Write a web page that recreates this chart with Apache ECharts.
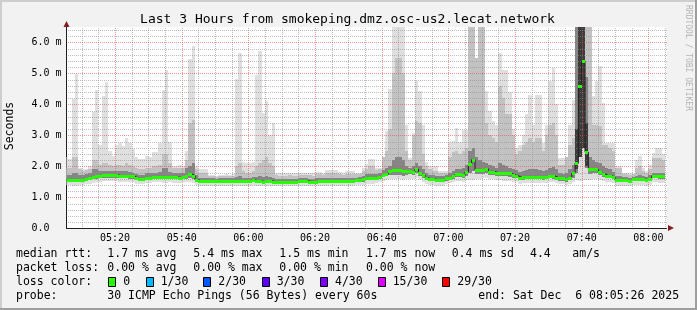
<!DOCTYPE html>
<html><head><meta charset="utf-8">
<script src="https://cdn.jsdelivr.net/npm/echarts@6/dist/echarts.min.js"></script>
<style>html,body{margin:0;padding:0;background:#f2f2f2}#c{width:697px;height:310px}</style>
</head><body><div id="c"></div>
<script>
// ---- time frame ----
const endTime = new Date(2025, 11, 6, 8, 5, 26).getTime();
const startTime = endTime - 3 * 3600 * 1000;
const firstStep = new Date(2025, 11, 6, 5, 5, 0).getTime(); // start of first 60 s step
const STEP = 60000;
const xTickLabels = ['05:20', '05:40', '06:00', '06:20', '06:40', '07:00', '07:20', '07:40', '08:00'];
const yTickValues = [0, 1, 2, 3, 4, 5, 6];

// ---- data (one value per 60 s step, in milliseconds) ----
const median = [
1.56,1.56,1.56,1.55,1.56,1.57,1.60,1.63,1.66,1.68,
1.70,1.72,1.72,1.73,1.72,1.72,1.70,1.70,1.70,1.68,
1.68,1.62,1.58,1.58,1.64,1.64,1.66,1.66,1.66,1.65,
1.66,1.66,1.65,1.65,1.64,1.66,1.70,1.76,1.70,1.56,
1.54,1.54,1.54,1.54,1.52,1.52,1.52,1.52,1.52,1.53,
1.53,1.52,1.52,1.52,1.52,1.52,1.56,1.54,1.52,1.51,
1.53,1.53,1.51,1.51,1.51,1.51,1.51,1.51,1.51,1.51,
1.53,1.53,1.53,1.51,1.51,1.51,1.53,1.53,1.53,1.53,
1.52,1.52,1.52,1.52,1.54,1.54,1.54,1.55,1.55,1.58,
1.62,1.62,1.62,1.64,1.67,1.73,1.76,1.84,1.87,1.87,
1.87,1.84,1.84,1.84,1.82,1.91,1.80,1.72,1.63,1.59,
1.59,1.56,1.56,1.56,1.61,1.64,1.68,1.75,1.75,1.71,
1.82,2.07,2.22,1.89,1.89,1.89,1.92,1.83,1.83,1.80,
1.79,1.78,1.78,1.77,1.73,1.70,1.64,1.65,1.67,1.67,
1.67,1.67,1.66,1.65,1.67,1.70,1.69,1.64,1.62,1.62,
1.58,1.64,1.77,2.10,4.60,5.39,2.46,1.91,1.91,1.90,
1.83,1.76,1.70,1.70,1.65,1.55,1.55,1.55,1.55,1.53,
1.59,1.59,1.59,1.59,1.55,1.60,1.70,1.70,1.68,1.68];
const pingMax = [
2.30,2.25,4.19,4.98,1.95,1.90,1.90,2.00,3.75,4.45,
2.70,4.28,4.71,2.50,2.35,2.70,2.75,2.65,2.90,2.75,
2.55,2.30,2.25,2.25,2.35,2.30,2.45,2.45,2.75,4.45,
5.12,2.78,2.00,2.00,2.05,2.00,2.48,5.47,5.88,2.00,
1.92,1.92,1.92,1.72,1.72,1.70,1.72,1.72,1.75,1.72,
1.75,4.81,5.66,2.15,2.10,2.10,2.15,4.96,5.74,3.72,
4.12,3.00,3.40,1.80,1.78,1.78,1.78,1.80,1.78,1.78,
1.78,1.80,1.80,1.80,1.78,1.82,1.82,1.80,1.87,1.87,
1.87,1.87,1.82,1.80,1.85,1.85,1.85,1.80,1.80,1.95,
2.07,2.24,2.24,1.95,1.95,1.95,3.15,4.50,6.60,6.60,
6.60,6.60,3.35,2.27,3.07,4.77,4.44,3.35,2.15,2.00,
2.00,2.00,1.85,1.85,1.85,2.80,2.83,3.24,2.80,3.18,
3.18,6.60,6.60,5.50,6.60,6.60,4.42,3.78,3.45,3.35,
5.66,5.10,5.10,4.40,3.20,2.60,2.70,3.00,3.70,4.30,
3.35,4.32,4.32,2.75,3.35,4.75,5.18,4.00,2.27,2.27,
2.27,3.35,4.15,6.60,6.60,6.60,6.60,6.60,4.26,4.75,
5.23,4.05,2.75,2.75,2.75,2.00,2.00,1.78,1.78,1.78,
1.75,2.20,2.32,1.95,1.85,2.05,2.43,2.60,2.58,2.40];
const pingHi = [
1.95,1.95,2.30,2.30,1.90,1.85,1.88,1.92,2.20,2.20,
2.05,2.10,2.10,2.05,2.00,2.05,2.05,2.00,2.10,2.05,
2.00,1.95,1.90,1.90,1.95,1.94,2.00,2.00,2.05,2.40,
2.40,2.10,1.95,1.95,1.95,1.95,2.20,3.40,3.50,1.90,
1.80,1.80,1.80,1.68,1.68,1.66,1.68,1.68,1.70,1.68,
1.70,2.00,2.10,1.85,1.80,1.80,1.85,2.00,2.10,2.20,
2.30,2.10,2.00,1.72,1.70,1.70,1.70,1.72,1.70,1.70,
1.72,1.72,1.72,1.72,1.70,1.74,1.74,1.72,1.78,1.78,
1.78,1.78,1.74,1.72,1.76,1.76,1.76,1.74,1.74,1.85,
1.92,2.00,2.00,1.88,1.90,2.30,2.50,3.20,5.00,5.50,
5.50,5.00,2.50,2.20,3.00,3.45,3.40,2.40,2.00,1.90,
1.85,1.85,1.78,1.78,1.80,2.30,2.45,2.50,2.40,2.50,
2.60,6.60,6.60,5.50,6.60,6.60,3.40,3.00,2.90,2.80,
4.60,4.20,3.70,3.70,3.00,2.40,2.50,2.70,2.80,2.90,
2.80,2.90,2.90,2.50,3.00,3.35,3.40,3.00,2.05,2.05,
2.30,2.70,2.90,6.60,6.60,6.60,6.60,6.60,3.35,3.35,
3.30,2.70,2.70,2.60,2.50,1.95,1.95,1.75,1.75,1.72,
1.75,1.95,2.00,1.85,1.80,1.90,2.27,2.27,2.27,2.20];
const pingDark = [
1.72,1.72,1.80,1.80,1.72,1.72,1.75,1.78,1.90,1.90,
1.85,1.86,1.86,1.86,1.85,1.86,1.84,1.84,1.86,1.82,
1.80,1.76,1.72,1.72,1.78,1.78,1.80,1.80,1.82,1.95,
1.95,1.82,1.80,1.80,1.80,1.80,1.95,2.00,2.10,1.72,
1.64,1.64,1.64,1.62,1.61,1.60,1.61,1.61,1.62,1.62,
1.62,1.66,1.68,1.62,1.62,1.62,1.66,1.66,1.68,1.66,
1.70,1.66,1.64,1.60,1.60,1.60,1.60,1.60,1.60,1.60,
1.62,1.62,1.62,1.60,1.60,1.61,1.63,1.63,1.64,1.64,
1.63,1.63,1.62,1.62,1.64,1.64,1.64,1.64,1.65,1.70,
1.74,1.76,1.76,1.76,1.80,1.88,1.95,2.00,2.20,2.30,
2.30,2.20,2.00,1.95,2.00,2.10,2.00,1.92,1.78,1.72,
1.72,1.68,1.68,1.68,1.72,1.80,1.85,1.92,1.92,1.95,
2.05,2.50,2.60,2.30,2.20,2.15,2.10,2.05,2.00,1.95,
2.10,2.05,2.00,1.95,1.92,1.88,1.82,1.86,1.88,1.90,
1.90,1.90,1.88,1.84,1.88,1.95,1.98,1.90,1.78,1.76,
1.78,1.90,2.05,6.60,6.60,6.60,4.90,2.30,2.20,2.15,
2.10,2.00,1.95,1.90,1.82,1.70,1.68,1.66,1.66,1.64,
1.67,1.69,1.71,1.69,1.67,1.71,1.80,1.80,1.78,1.78];
const pingLo = [
1.50,1.50,1.48,1.48,1.50,1.51,1.53,1.56,1.58,1.60,
1.62,1.64,1.64,1.64,1.64,1.64,1.62,1.62,1.62,1.60,
1.60,1.55,1.52,1.52,1.57,1.57,1.59,1.59,1.59,1.58,
1.58,1.59,1.58,1.58,1.57,1.59,1.60,1.62,1.58,1.50,
1.48,1.48,1.48,1.48,1.46,1.46,1.46,1.46,1.46,1.47,
1.47,1.46,1.46,1.46,1.46,1.46,1.49,1.48,1.46,1.45,
1.46,1.46,1.45,1.45,1.45,1.45,1.45,1.45,1.45,1.45,
1.47,1.47,1.47,1.45,1.45,1.45,1.47,1.47,1.47,1.47,
1.46,1.46,1.46,1.46,1.48,1.48,1.48,1.49,1.49,1.51,
1.55,1.55,1.55,1.57,1.60,1.65,1.68,1.72,1.72,1.72,
1.72,1.70,1.72,1.74,1.72,1.78,1.70,1.64,1.56,1.52,
1.52,1.50,1.50,1.50,1.54,1.57,1.60,1.66,1.66,1.63,
1.70,1.80,1.85,1.75,1.76,1.76,1.78,1.72,1.72,1.70,
1.69,1.68,1.68,1.67,1.64,1.62,1.56,1.57,1.58,1.58,
1.58,1.58,1.58,1.57,1.58,1.61,1.60,1.56,1.54,1.54,
1.51,1.56,1.62,1.78,2.40,2.80,1.95,1.75,1.78,1.78,
1.72,1.67,1.62,1.62,1.58,1.49,1.49,1.49,1.49,1.47,
1.52,1.52,1.52,1.52,1.49,1.53,1.62,1.62,1.60,1.60];
const pingMin = [
1.40,1.40,1.38,1.36,1.40,1.41,1.42,1.44,1.46,1.48,
1.50,1.52,1.52,1.53,1.52,1.52,1.50,1.50,1.50,1.48,
1.48,1.44,1.42,1.42,1.46,1.46,1.48,1.48,1.48,1.46,
1.46,1.48,1.47,1.47,1.46,1.48,1.48,1.50,1.46,1.40,
1.38,1.38,1.38,1.38,1.36,1.36,1.36,1.36,1.36,1.37,
1.37,1.36,1.36,1.36,1.36,1.36,1.39,1.38,1.36,1.35,
1.36,1.36,1.35,1.35,1.35,1.35,1.35,1.35,1.35,1.35,
1.37,1.37,1.37,1.35,1.35,1.35,1.37,1.37,1.37,1.37,
1.36,1.36,1.36,1.36,1.38,1.38,1.38,1.39,1.39,1.40,
1.44,1.44,1.44,1.46,1.48,1.52,1.55,1.58,1.58,1.58,
1.58,1.56,1.58,1.60,1.58,1.62,1.56,1.50,1.44,1.40,
1.40,1.38,1.38,1.38,1.42,1.45,1.48,1.52,1.52,1.50,
1.55,1.55,1.55,1.58,1.60,1.62,1.62,1.58,1.58,1.56,
1.55,1.54,1.54,1.53,1.50,1.48,1.44,1.45,1.46,1.46,
1.46,1.46,1.46,1.45,1.46,1.48,1.48,1.45,1.42,1.42,
1.40,1.44,1.48,1.55,1.52,1.55,1.55,1.55,1.58,1.58,
1.56,1.54,1.50,1.50,1.46,1.38,1.38,1.38,1.38,1.36,
1.40,1.40,1.40,1.40,1.38,1.41,1.48,1.48,1.46,1.46];
// darkest core of the smoke where most pings cluster far from normal
const coreSteps = [153, 154, 155, 156];
const coreLow = [1.90, 2.30, 2.60, 2.00];
const coreHigh = [3.20, 6.60, 6.60, 3.40];

// ---- texts ----
const titleText = 'Last 3 Hours from smokeping.dmz.osc-us2.lecat.network';
const yName = 'Seconds';
const rttLabel = 'median rtt:';
const rttStats = ['1.7 ms avg', '5.4 ms max', '1.5 ms min', '1.7 ms now', '0.4 ms sd', '4.4', 'am/s'];
const lossLabel = 'packet loss:';
const lossStats = ['0.00 % avg', '0.00 % max', '0.00 % min', '0.00 % now'];
const lossColorLabel = 'loss color:';
const lossColorNames = ['0', '1/30', '2/30', '3/30', '4/30', '15/30', '29/30'];
const lossColors = ['#26ff00', '#00b8ff', '#0059ff', '#5e00ff', '#7e00ff', '#dd00ff', '#ff0000'];
const probeLabel = 'probe:';
const probeText = '30 ICMP Echo Pings (56 Bytes) every 60s';
const endText = 'end: Sat Dec  6 08:05:26 2025';
const watermark = 'RRDTOOL / TOBI OETIKER';

// ---- style constants ----
const MONO = '"DejaVu Sans Mono", monospace';
const GRID = {left: 66.5, right: 30.5, top: 27, bottom: 81.7};
const MAJOR = 'rgba(222,79,79,0.6)', MINOR = 'rgba(143,143,143,0.6)';

function timeOf(label) {
  const p = label.split(':');
  return new Date(2025, 11, 6, +p[0], +p[1], 0).getTime();
}
const xTickTimes = xTickLabels.map(timeOf);
const vGridTimes = [];
for (let t = timeOf('05:10'); t <= endTime; t += 5 * 60000) vGridTimes.push(t);
const hGridValues = [];
for (let k = 1; k <= 32; k++) hGridValues.push(+(k * 0.2).toFixed(1));

// dotted 1-on/1-off patterns (rrdtool grid dash 1:1)
function dotPattern(color, vertical) {
  const c = document.createElement('canvas');
  c.width = vertical ? 1 : 2; c.height = vertical ? 2 : 1;
  const ctx = c.getContext('2d');
  ctx.fillStyle = color; ctx.fillRect(0, 0, 1, 1);
  return {image: c, repeat: 'repeat'};
}
const PAT = {
  vMajor: dotPattern(MAJOR, true), vMinor: dotPattern(MINOR, true),
  hMajor: dotPattern(MAJOR, false), hMinor: dotPattern(MINOR, false)
};

function clipRect(r, cs) {
  return echarts.graphic.clipRectByRect(r, {x: cs.x, y: cs.y, width: cs.width, height: cs.height});
}
function bandRender(color) {
  return function (params, api) {
    const t = api.value(0);
    const p1 = api.coord([t, api.value(2)]);
    const p2 = api.coord([t + STEP, api.value(1)]);
    const x1 = Math.round(p1[0]), x2 = Math.round(p2[0]);
    const y1 = Math.round(p1[1]), y2 = Math.round(p2[1]);
    const r = clipRect({x: x1, y: y1, width: x2 - x1, height: Math.max(1, y2 - y1)}, params.coordSys);
    return r ? {type: 'rect', shape: r, style: {fill: color}} : null;
  };
}
const smokeLayers = [
  {data: median.map((_, j) => [firstStep + j * STEP, pingMin[j], pingMax[j]]), color: '#dfdfdf'},
  {data: median.map((_, j) => [firstStep + j * STEP, pingLo[j], pingHi[j]]), color: '#c2c2c2'},
  {data: median.map((_, j) => [firstStep + j * STEP, pingLo[j], pingDark[j]]), color: '#858585'},
  {data: coreSteps.map((j, k) => [firstStep + j * STEP, coreLow[k], coreHigh[k]]), color: '#3c3c3c'}
];
const series = smokeLayers.map((L, i) => ({
  type: 'custom', name: 'smoke' + i, silent: true, z: 2 + i,
  encode: {x: 0, y: [1, 2]},
  renderItem: bandRender(L.color),
  data: L.data
}));

// grid lines (drawn over the smoke like rrdtool does), positioned through the axes
series.push({
  type: 'custom', silent: true, z: 8,
  encode: {x: 0, y: 1},
  data: [[startTime + 1, 1]],
  renderItem: function (params, api) {
    const cs = params.coordSys;
    const children = [];
    vGridTimes.forEach(function (t) {
      const x = Math.round(api.coord([t, 1])[0]);
      const major = new Date(t).getMinutes() % 20 === 0;
      children.push({type: 'rect', shape: {x: x, y: Math.round(cs.y), width: 1, height: Math.round(cs.height)},
        style: {fill: major ? PAT.vMajor : PAT.vMinor}});
    });
    hGridValues.forEach(function (v) {
      const y = Math.round(api.coord([startTime + 1, v])[1]);
      const major = Math.abs(v - Math.round(v)) < 1e-6;
      children.push({type: 'rect', shape: {x: Math.round(cs.x), y: y, width: Math.round(cs.width), height: 1},
        style: {fill: major ? PAT.hMajor : PAT.hMinor}});
    });
    return {type: 'group', children: children};
  }
});
// median line
const medLine = median.map((v, j) => [firstStep + j * STEP, v]);
medLine.push([firstStep + median.length * STEP, median[median.length - 1]]);
series.push({
  type: 'line', step: 'end', data: medLine, symbol: 'none', silent: true, z: 9,
  lineStyle: {color: '#202020', width: 1}, clip: true
});
// median markers coloured by loss (all steps had 0 loss)
series.push({
  type: 'custom', silent: true, z: 10,
  encode: {x: 0, y: 1},
  data: median.map((v, j) => [firstStep + j * STEP, v]),
  renderItem: function (params, api) {
    const t = api.value(0);
    const p1 = api.coord([t, api.value(1)]);
    const p2 = api.coord([t + STEP, api.value(1)]);
    const x1 = Math.round(p1[0]), x2 = Math.round(p2[0]);
    const y = Math.round(p1[1]);
    const r = clipRect({x: x1, y: y - 1, width: x2 - x1, height: 3}, params.coordSys);
    return r ? {type: 'rect', shape: r, style: {fill: lossColors[0]}} : null;
  }
});

function pad(n) { return (n < 10 ? '0' : '') + n; }

// ---- graphic decorations / legend ----
const graphic = [];
graphic.push({type: 'rect', shape: {x: 0, y: 0, width: 697, height: 2}, style: {fill: '#cecece'}, silent: true});
graphic.push({type: 'rect', shape: {x: 0, y: 0, width: 2, height: 310}, style: {fill: '#cecece'}, silent: true});
graphic.push({type: 'rect', shape: {x: 0, y: 308, width: 697, height: 2}, style: {fill: '#9e9e9e'}, silent: true});
graphic.push({type: 'rect', shape: {x: 695, y: 0, width: 2, height: 310}, style: {fill: '#9e9e9e'}, silent: true});
graphic.push({type: 'text', x: 347.5, y: 20, silent: true,
  style: {text: titleText, font: '13px ' + MONO, fill: '#000', align: 'center', verticalAlign: 'middle'}});
graphic.push({type: 'text', x: 10.5, y: 126, rotation: Math.PI / 2, silent: true,
  style: {text: yName, font: '11.5px ' + MONO, fill: '#000', align: 'center', verticalAlign: 'middle'}});
graphic.push({type: 'text', x: 688.5, y: 5, rotation: -Math.PI / 2, silent: true,
  style: {text: watermark, font: '8px ' + MONO, fill: '#b4b4b4', align: 'left', verticalAlign: 'middle'}});
// axis arrows
graphic.push({type: 'polygon', silent: true, z: 100, shape: {points: [[63.5, 27], [69.5, 27], [66.5, 21]]}, style: {fill: '#801f1f'}});
graphic.push({type: 'polygon', silent: true, z: 100, shape: {points: [[668, 225], [668, 231], [674, 228]]}, style: {fill: '#801f1f'}});
// legend
function txt(s, x, y) {
  graphic.push({type: 'text', x: x, y: y, silent: true,
    style: {text: s, font: '11.5px ' + MONO, fill: '#000', align: 'left', verticalAlign: 'middle'}});
}
const col = [107.3, 193.3, 279.3, 366, 451.7, 530, 572.3];
txt(rttLabel, 16, 254.5);
rttStats.forEach((s, i) => txt(s, col[i], 254.5));
txt(lossLabel, 16, 268.5);
lossStats.forEach((s, i) => txt(s, col[i], 268.5));
txt(lossColorLabel, 16, 282.5);
const boxX = [108.3, 145.7, 203.3, 261.7, 320, 377.7, 442.3];
lossColorNames.forEach((s, i) => {
  graphic.push({type: 'rect', silent: true, shape: {x: Math.round(boxX[i]) + 0.5, y: 277.5, width: 7, height: 9},
    style: {fill: lossColors[i], stroke: '#000', lineWidth: 1}});
  txt(s, boxX[i] + 15, 282.5);
});
txt(probeLabel, 16, 296.5);
txt(probeText, 107.3, 296.5);
txt(endText, 478.3, 296.5);

const chart = echarts.init(document.getElementById('c'), null, {renderer: 'canvas'});
chart.setOption({
  animation: false,
  backgroundColor: '#f2f2f2',
  grid: Object.assign({show: true, backgroundColor: '#ffffff', borderWidth: 0, containLabel: false, outerBoundsMode: 'none'}, GRID),
  xAxis: {
    type: 'value', min: startTime, max: endTime, scale: true,
    axisLine: {show: true, lineStyle: {color: '#1f1f1f', width: 1}},
    axisTick: {show: false},
    splitLine: {show: false},
    axisLabel: {
      customValues: xTickTimes,
      fontFamily: MONO, fontSize: 10, color: '#000', margin: 5, hideOverlap: false,
      formatter: function (v) { const d = new Date(v); return pad(d.getHours()) + ':' + pad(d.getMinutes()); }
    }
  },
  yAxis: {
    type: 'value', min: 0, max: 6.5, interval: 1,
    axisLine: {show: true, lineStyle: {color: '#1f1f1f', width: 1}},
    axisTick: {show: false},
    splitLine: {show: false},
    axisLabel: {
      fontFamily: MONO, fontSize: 10, color: '#000', align: 'left', margin: 35, showMaxLabel: false,
      formatter: function (v) { return yTickValues.indexOf(v) < 0 ? '' : (v === 0 ? '0.0' : v.toFixed(1) + ' m'); }
    }
  },
  graphic: graphic,
  series: series
});
</script></body></html>
